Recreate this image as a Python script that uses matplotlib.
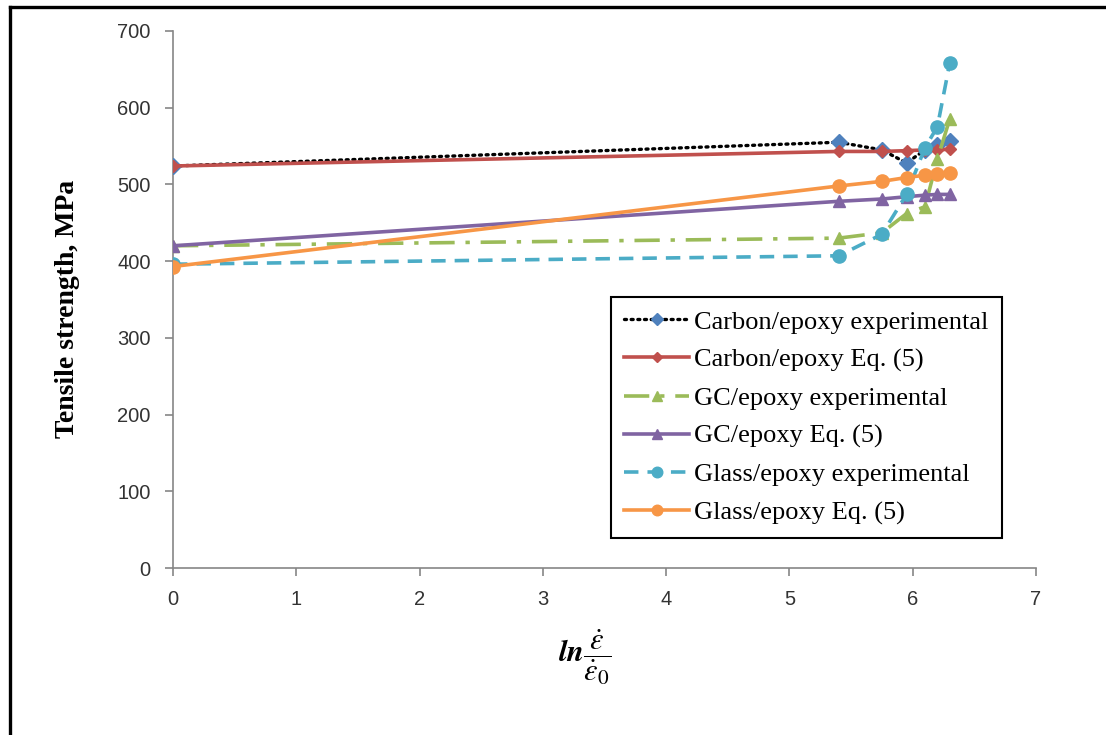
import matplotlib
matplotlib.use("Agg")
import matplotlib.pyplot as plt
from matplotlib.lines import Line2D

# strain-rate term ln(eps_dot / eps_dot_0)
x_vals = [0, 5.4, 5.75, 5.95, 6.1, 6.2, 6.3]

carbon_exp = [524, 555, 545, 528, 545, 552, 557]
carbon_eq5 = [524, 543, 543, 544, 545, 545, 546]
gc_exp = [420, 430, 437, 462, 471, 533, 585]
gc_eq5 = [420, 478, 481, 484, 486, 487, 487]
glass_exp = [396, 407, 435, 487, 548, 575, 658]
glass_eq5 = [393, 498, 504, 509, 512, 514, 515]

labels = [
    "Carbon/epoxy experimental",
    "Carbon/epoxy Eq. (5)",
    "GC/epoxy experimental",
    "GC/epoxy Eq. (5)",
    "Glass/epoxy experimental",
    "Glass/epoxy Eq. (5)",
]

y_ticks = [0, 100, 200, 300, 400, 500, 600, 700]
x_ticks = [0, 1, 2, 3, 4, 5, 6, 7]

plt.rcParams['mathtext.fontset'] = 'stix'

fig = plt.figure(figsize=(11.06, 7.35), dpi=100)
ax = fig.add_axes([173 / 1106, 1 - 568 / 735, (1036 - 173) / 1106, (568 - 31) / 735])

lw = 2.6
ax.plot(x_vals, carbon_exp, color='black', linestyle=(0, (0.6, 1.4)), lw=2.4,
        dash_capstyle='round', marker='D', ms=8, mfc='#4F81BD', mec='#4F81BD',
        label=labels[0], zorder=3)
ax.plot(x_vals, carbon_eq5, color='#C0504D', lw=lw, marker='D', ms=6,
        mfc='#C0504D', mec='#C0504D', label=labels[1], zorder=3)
ax.plot(x_vals, gc_exp, color='#9BBB59', lw=lw, linestyle=(0, (7, 3, 1.2, 3)),
        marker='^', ms=9, mfc='#9BBB59', mec='#9BBB59', label=labels[2], zorder=3)
ax.plot(x_vals, gc_eq5, color='#8064A2', lw=lw, marker='^', ms=9,
        mfc='#8064A2', mec='#8064A2', label=labels[3], zorder=3)
ax.plot(x_vals, glass_exp, color='#4BACC6', lw=lw, linestyle=(0, (4, 2.5)),
        marker='o', ms=9.5, mfc='#4BACC6', mec='#4BACC6', label=labels[4], zorder=3)
ax.plot(x_vals, glass_eq5, color='#F79646', lw=lw, marker='o', ms=9.5,
        mfc='#F79646', mec='#F79646', label=labels[5], zorder=3)

ax.set_xlim(0, 7)
ax.set_ylim(0, 700)
ax.set_xticks(x_ticks)
ax.set_yticks(y_ticks)

for side in ['top', 'right']:
    ax.spines[side].set_visible(False)
for side in ['left', 'bottom']:
    ax.spines[side].set_color('#868686')
    ax.spines[side].set_linewidth(1.2)
ax.tick_params(axis='both', direction='out', length=6, width=1.2, color='#868686',
               labelsize=14.5, labelcolor='#333333')
ax.tick_params(axis='y', pad=10)
ax.tick_params(axis='x', pad=10)
for lab in ax.get_xticklabels() + ax.get_yticklabels():
    lab.set_fontfamily('Liberation Sans')

ax.set_ylabel("Tensile strength, MPa", fontfamily='Liberation Serif',
              fontweight='bold', fontsize=20)
ax.yaxis.set_label_coords(80 / 1106, 1 - 309 / 735, transform=fig.transFigure)

fig.text(585 / 1106, 1 - 657 / 735,
         r'$\mathbfit{ln}\dfrac{\dot{\varepsilon}}{\dot{\varepsilon}_0}$',
         fontsize=22, ha='center', va='center')

leg = ax.legend(loc='upper left', bbox_to_anchor=(611 / 1106, 1 - 297 / 735),
                bbox_transform=fig.transFigure, borderaxespad=0,
                prop={'family': 'Liberation Serif', 'size': 19},
                handlelength=2.45, handletextpad=0.2, labelspacing=0.55,
                borderpad=0.5, fancybox=False, framealpha=1, markerscale=0.8)
leg.get_frame().set_edgecolor('black')
leg.get_frame().set_linewidth(1.5)

# outer frame: left and top edges
fig.add_artist(Line2D([10 / 1106, 10 / 1106], [0, 1 - 7 / 735],
                      transform=fig.transFigure, color='black', lw=2.4))
fig.add_artist(Line2D([10 / 1106, 1], [1 - 7 / 735, 1 - 7 / 735],
                      transform=fig.transFigure, color='black', lw=2.4))

fig.savefig('out.png', dpi=100)
